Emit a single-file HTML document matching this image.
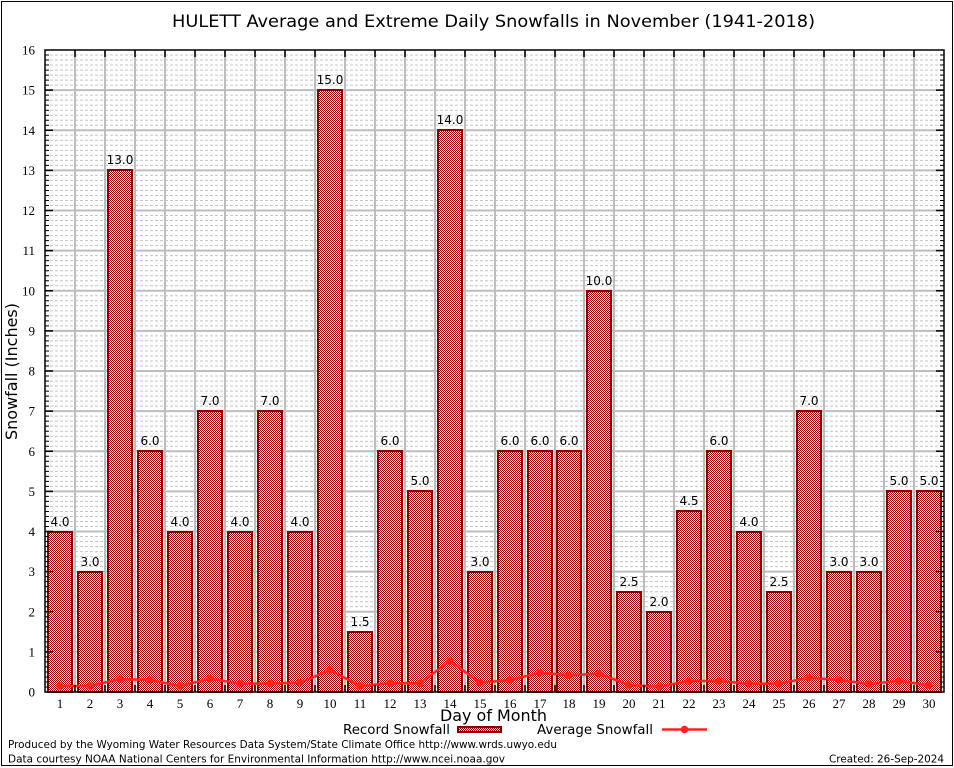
<!DOCTYPE html>
<html>
<head>
<meta charset="utf-8">
<style>
html,body{margin:0;padding:0;background:#fff;}
svg{display:block;}
.sans{font-family:"DejaVu Sans","Liberation Sans",sans-serif;}
.serif{font-family:"Liberation Serif","DejaVu Serif",serif;}
</style>
</head>
<body>
<svg width="954" height="768" viewBox="0 0 954 768" xmlns="http://www.w3.org/2000/svg">
<defs>
<pattern id="chk" x="0" y="0" width="2" height="2" patternUnits="userSpaceOnUse">
<rect width="2" height="2" fill="#ffffff" shape-rendering="crispEdges"/>
<rect width="1" height="1" fill="#a80000" shape-rendering="crispEdges"/>
<rect x="1" y="1" width="1" height="1" fill="#a80000" shape-rendering="crispEdges"/>
</pattern>
<g id="mg">
<path d="M45 686.98H944M45 681.97H944M45 676.95H944M45 671.94H944M45 666.92H944M45 661.91H944M45 656.89H944" stroke="#c4c4c4" stroke-width="1" stroke-dasharray="3 2" fill="none"/>
</g>
<g id="mt">
<path d="M45 686.98h4M45 681.97h4M45 676.95h4M45 671.94h4M45 666.92h4M45 661.91h4M45 656.89h4M944 686.98h-4M944 681.97h-4M944 676.95h-4M944 671.94h-4M944 666.92h-4M944 661.91h-4M944 656.89h-4" stroke="#000" stroke-width="1" fill="none"/>
</g>
</defs>

<rect x="0" y="0" width="954" height="768" fill="#fff"/>
<rect x="1.5" y="1.5" width="951" height="764" fill="none" stroke="#000" stroke-width="1"/>

<!-- minor grid -->
<use href="#mg" transform="translate(0,0)"/>
<use href="#mg" transform="translate(0,-40.125)"/>
<use href="#mg" transform="translate(0,-80.25)"/>
<use href="#mg" transform="translate(0,-120.375)"/>
<use href="#mg" transform="translate(0,-160.5)"/>
<use href="#mg" transform="translate(0,-200.625)"/>
<use href="#mg" transform="translate(0,-240.75)"/>
<use href="#mg" transform="translate(0,-280.875)"/>
<use href="#mg" transform="translate(0,-321)"/>
<use href="#mg" transform="translate(0,-361.125)"/>
<use href="#mg" transform="translate(0,-401.25)"/>
<use href="#mg" transform="translate(0,-441.375)"/>
<use href="#mg" transform="translate(0,-481.5)"/>
<use href="#mg" transform="translate(0,-521.625)"/>
<use href="#mg" transform="translate(0,-561.75)"/>
<use href="#mg" transform="translate(0,-601.875)"/>

<!-- major grid -->
<path d="M45 651.875H944M45 611.75H944M45 571.625H944M45 531.5H944M45 491.375H944M45 451.25H944M45 411.125H944M45 371H944M45 330.875H944M45 290.75H944M45 250.625H944M45 210.5H944M45 170.375H944M45 130.25H944M45 90.125H944" stroke="#bdbdbd" stroke-width="2" fill="none"/>
<path d="M75 50V692M105 50V692M135 50V692M165 50V692M195 50V692M225 50V692M255 50V692M285 50V692M315 50V692M345 50V692M375 50V692M405 50V692M435 50V692M465 50V692M495 50V692M525 50V692M555 50V692M584 50V692M614 50V692M644 50V692M674 50V692M704 50V692M734 50V692M764 50V692M794 50V692M824 50V692M854 50V692M884 50V692M914 50V692" stroke="#bdbdbd" stroke-width="2" fill="none"/>

<!-- bars -->
<g fill="url(#chk)" stroke="#900000" stroke-width="2" shape-rendering="crispEdges">
<rect x="48" y="532" width="24" height="160"/>
<rect x="78" y="572" width="24" height="120"/>
<rect x="108" y="170" width="24" height="522"/>
<rect x="138" y="451" width="24" height="241"/>
<rect x="168" y="532" width="24" height="160"/>
<rect x="198" y="411" width="24" height="281"/>
<rect x="228" y="532" width="24" height="160"/>
<rect x="258" y="411" width="24" height="281"/>
<rect x="288" y="532" width="24" height="160"/>
<rect x="318" y="90" width="24" height="602"/>
<rect x="348" y="632" width="24" height="60"/>
<rect x="378" y="451" width="24" height="241"/>
<rect x="408" y="491" width="24" height="201"/>
<rect x="438" y="130" width="24" height="562"/>
<rect x="468" y="572" width="24" height="120"/>
<rect x="498" y="451" width="24" height="241"/>
<rect x="528" y="451" width="24" height="241"/>
<rect x="557" y="451" width="24" height="241"/>
<rect x="587" y="291" width="24" height="401"/>
<rect x="617" y="592" width="24" height="100"/>
<rect x="647" y="612" width="24" height="80"/>
<rect x="677" y="511" width="24" height="181"/>
<rect x="707" y="451" width="24" height="241"/>
<rect x="737" y="532" width="24" height="160"/>
<rect x="767" y="592" width="24" height="100"/>
<rect x="797" y="411" width="24" height="281"/>
<rect x="827" y="572" width="24" height="120"/>
<rect x="857" y="572" width="24" height="120"/>
<rect x="887" y="491" width="24" height="201"/>
<rect x="917" y="491" width="24" height="201"/>
</g>

<!-- value labels -->
<g class="sans" font-size="12" text-anchor="middle" fill="#000">
<text x="60" y="526">4.0</text>
<text x="90" y="566">3.0</text>
<text x="120" y="164">13.0</text>
<text x="150" y="445">6.0</text>
<text x="180" y="526">4.0</text>
<text x="210" y="405">7.0</text>
<text x="240" y="526">4.0</text>
<text x="270" y="405">7.0</text>
<text x="300" y="526">4.0</text>
<text x="330" y="84">15.0</text>
<text x="360" y="626">1.5</text>
<text x="390" y="445">6.0</text>
<text x="420" y="485">5.0</text>
<text x="450" y="124">14.0</text>
<text x="480" y="566">3.0</text>
<text x="510" y="445">6.0</text>
<text x="540" y="445">6.0</text>
<text x="569" y="445">6.0</text>
<text x="599" y="285">10.0</text>
<text x="629" y="586">2.5</text>
<text x="659" y="606">2.0</text>
<text x="689" y="505">4.5</text>
<text x="719" y="445">6.0</text>
<text x="749" y="526">4.0</text>
<text x="779" y="586">2.5</text>
<text x="809" y="405">7.0</text>
<text x="839" y="566">3.0</text>
<text x="869" y="566">3.0</text>
<text x="899" y="485">5.0</text>
<text x="929" y="485">5.0</text>
</g>

<!-- average line -->
<polyline fill="none" stroke="#ff2020" stroke-width="2.5" stroke-linejoin="round" points="60,686 90,686 120,679 150,680 180,686 210,678.7 240,683.7 270,683.5 300,682.7 330,670 360,686 390,683.3 420,683.3 450,661 480,682.7 510,680 540,672.7 569,675.3 599,673.7 629,685 659,686.7 689,681 719,681 749,683.7 779,683.7 809,677.7 839,680 869,684 899,681 929,685.3"/>
<g fill="#ff2020">
<circle cx="60" cy="686" r="3.8"/>
<circle cx="90" cy="686" r="3.8"/>
<circle cx="120" cy="679" r="3.8"/>
<circle cx="150" cy="680" r="3.8"/>
<circle cx="180" cy="686" r="3.8"/>
<circle cx="210" cy="678.7" r="3.8"/>
<circle cx="240" cy="683.7" r="3.8"/>
<circle cx="270" cy="683.5" r="3.8"/>
<circle cx="300" cy="682.7" r="3.8"/>
<circle cx="330" cy="670" r="3.8"/>
<circle cx="360" cy="686" r="3.8"/>
<circle cx="390" cy="683.3" r="3.8"/>
<circle cx="420" cy="683.3" r="3.8"/>
<circle cx="450" cy="661" r="3.8"/>
<circle cx="480" cy="682.7" r="3.8"/>
<circle cx="510" cy="680" r="3.8"/>
<circle cx="540" cy="672.7" r="3.8"/>
<circle cx="569" cy="675.3" r="3.8"/>
<circle cx="599" cy="673.7" r="3.8"/>
<circle cx="629" cy="685" r="3.8"/>
<circle cx="659" cy="686.7" r="3.8"/>
<circle cx="689" cy="681" r="3.8"/>
<circle cx="719" cy="681" r="3.8"/>
<circle cx="749" cy="683.7" r="3.8"/>
<circle cx="779" cy="683.7" r="3.8"/>
<circle cx="809" cy="677.7" r="3.8"/>
<circle cx="839" cy="680" r="3.8"/>
<circle cx="869" cy="684" r="3.8"/>
<circle cx="899" cy="681" r="3.8"/>
<circle cx="929" cy="685.3" r="3.8"/>
</g>

<!-- minor ticks -->
<use href="#mt" transform="translate(0,0)"/>
<use href="#mt" transform="translate(0,-40.125)"/>
<use href="#mt" transform="translate(0,-80.25)"/>
<use href="#mt" transform="translate(0,-120.375)"/>
<use href="#mt" transform="translate(0,-160.5)"/>
<use href="#mt" transform="translate(0,-200.625)"/>
<use href="#mt" transform="translate(0,-240.75)"/>
<use href="#mt" transform="translate(0,-280.875)"/>
<use href="#mt" transform="translate(0,-321)"/>
<use href="#mt" transform="translate(0,-361.125)"/>
<use href="#mt" transform="translate(0,-401.25)"/>
<use href="#mt" transform="translate(0,-441.375)"/>
<use href="#mt" transform="translate(0,-481.5)"/>
<use href="#mt" transform="translate(0,-521.625)"/>
<use href="#mt" transform="translate(0,-561.75)"/>
<use href="#mt" transform="translate(0,-601.875)"/>

<!-- major ticks -->
<path d="M45 651.875h8M45 611.75h8M45 571.625h8M45 531.5h8M45 491.375h8M45 451.25h8M45 411.125h8M45 371h8M45 330.875h8M45 290.75h8M45 250.625h8M45 210.5h8M45 170.375h8M45 130.25h8M45 90.125h8M944 651.875h-8M944 611.75h-8M944 571.625h-8M944 531.5h-8M944 491.375h-8M944 451.25h-8M944 411.125h-8M944 371h-8M944 330.875h-8M944 290.75h-8M944 250.625h-8M944 210.5h-8M944 170.375h-8M944 130.25h-8M944 90.125h-8" stroke="#000" stroke-width="1.5" fill="none"/>
<path d="M75 692v-7M105 692v-7M135 692v-7M165 692v-7M195 692v-7M225 692v-7M255 692v-7M285 692v-7M315 692v-7M345 692v-7M375 692v-7M405 692v-7M435 692v-7M465 692v-7M495 692v-7M525 692v-7M555 692v-7M584 692v-7M614 692v-7M644 692v-7M674 692v-7M704 692v-7M734 692v-7M764 692v-7M794 692v-7M824 692v-7M854 692v-7M884 692v-7M914 692v-7M75 50v7M105 50v7M135 50v7M165 50v7M195 50v7M225 50v7M255 50v7M285 50v7M315 50v7M345 50v7M375 50v7M405 50v7M435 50v7M465 50v7M495 50v7M525 50v7M555 50v7M584 50v7M614 50v7M644 50v7M674 50v7M704 50v7M734 50v7M764 50v7M794 50v7M824 50v7M854 50v7M884 50v7M914 50v7" stroke="#000" stroke-width="1.5" fill="none"/>

<!-- frame -->
<rect x="45" y="50" width="899" height="642" fill="none" stroke="#000" stroke-width="1.5"/>

<!-- y tick labels -->
<g class="serif" font-size="13" text-anchor="end" fill="#000">
<text x="35" y="696.5">0</text>
<text x="35" y="656.4">1</text>
<text x="35" y="616.25">2</text>
<text x="35" y="576.1">3</text>
<text x="35" y="536">4</text>
<text x="35" y="495.9">5</text>
<text x="35" y="455.75">6</text>
<text x="35" y="415.6">7</text>
<text x="35" y="375.5">8</text>
<text x="35" y="335.4">9</text>
<text x="35" y="295.25">10</text>
<text x="35" y="255.1">11</text>
<text x="35" y="215">12</text>
<text x="35" y="174.9">13</text>
<text x="35" y="134.75">14</text>
<text x="35" y="94.6">15</text>
<text x="35" y="54.5">16</text>
</g>

<!-- x tick labels -->
<g class="serif" font-size="13" text-anchor="middle" fill="#000">
<text x="60" y="708">1</text>
<text x="90" y="708">2</text>
<text x="120" y="708">3</text>
<text x="150" y="708">4</text>
<text x="180" y="708">5</text>
<text x="210" y="708">6</text>
<text x="240" y="708">7</text>
<text x="270" y="708">8</text>
<text x="300" y="708">9</text>
<text x="330" y="708">10</text>
<text x="360" y="708">11</text>
<text x="390" y="708">12</text>
<text x="420" y="708">13</text>
<text x="450" y="708">14</text>
<text x="480" y="708">15</text>
<text x="510" y="708">16</text>
<text x="540" y="708">17</text>
<text x="569" y="708">18</text>
<text x="599" y="708">19</text>
<text x="629" y="708">20</text>
<text x="659" y="708">21</text>
<text x="689" y="708">22</text>
<text x="719" y="708">23</text>
<text x="749" y="708">24</text>
<text x="779" y="708">25</text>
<text x="809" y="708">26</text>
<text x="839" y="708">27</text>
<text x="869" y="708">28</text>
<text x="899" y="708">29</text>
<text x="929" y="708">30</text>
</g>

<!-- title & axis labels -->
<text class="sans" x="172" y="27" font-size="17" textLength="643" lengthAdjust="spacingAndGlyphs" fill="#000">HULETT Average and Extreme Daily Snowfalls in November (1941-2018)</text>
<text class="sans" transform="translate(17,440) rotate(-90)" x="0" y="0" font-size="16" textLength="137" lengthAdjust="spacingAndGlyphs" fill="#000">Snowfall (Inches)</text>
<text class="sans" x="440" y="721" font-size="16" textLength="107" lengthAdjust="spacingAndGlyphs" fill="#000">Day of Month</text>

<!-- legend -->
<text class="sans" x="343" y="734" font-size="13" textLength="107" lengthAdjust="spacingAndGlyphs" fill="#000">Record Snowfall</text>
<rect x="458" y="727" width="43" height="5" fill="url(#chk)" stroke="#900000" stroke-width="2" shape-rendering="crispEdges"/>
<text class="sans" x="537" y="734" font-size="13" textLength="116" lengthAdjust="spacingAndGlyphs" fill="#000">Average Snowfall</text>
<path d="M662 729.5H707" stroke="#ff2020" stroke-width="2.5"/>
<circle cx="684.5" cy="729.5" r="3.8" fill="#ff2020"/>

<!-- footer -->
<text class="sans" x="8" y="748" font-size="11" textLength="549" lengthAdjust="spacingAndGlyphs" fill="#000">Produced by the Wyoming Water Resources Data System/State Climate Office http://www.wrds.uwyo.edu</text>
<text class="sans" x="8" y="762.5" font-size="11" textLength="497" lengthAdjust="spacingAndGlyphs" fill="#000">Data courtesy NOAA National Centers for Environmental Information http://www.ncei.noaa.gov</text>
<text class="sans" x="829" y="762.5" font-size="11" textLength="115" lengthAdjust="spacingAndGlyphs" fill="#000">Created: 26-Sep-2024</text>
</svg>
</body>
</html>
